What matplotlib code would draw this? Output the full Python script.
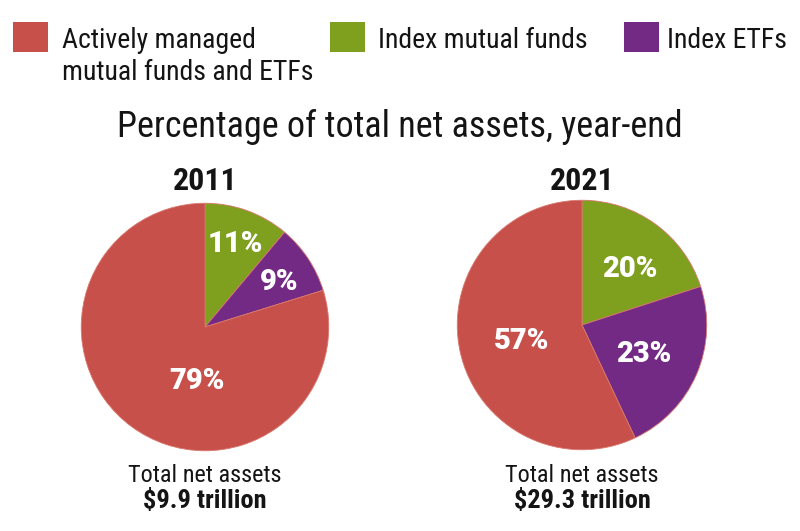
import matplotlib
matplotlib.use("Agg")
import matplotlib.pyplot as plt
from matplotlib.patches import Rectangle
import numpy as np

categories = ["Actively managed\nmutual funds and ETFs", "Index mutual funds", "Index ETFs"]
years = ["2011", "2021"]
# order drawn clockwise from 12 o'clock: index MF, index ETF, active
values_2011 = [11, 9, 79]
values_2021 = [20, 23, 57]
totals = ["$9.9 trillion", "$29.3 trillion"]

RED = "#C7504A"
GREEN = "#7F9F1F"
PURPLE = "#732A84"
colors = [GREEN, PURPLE, RED]
INK = "#141414"

fig = plt.figure(figsize=(8, 5.31), dpi=100)
W, H = 800, 531


def fx(px):
    return px / W


def fy(py):
    return 1 - py / H


cond = ["Roboto Condensed", "DejaVu Sans"]
wide = ["Roboto", "DejaVu Sans"]

# Legend
leg = [(13, RED, categories[0], 49), (330, GREEN, categories[1], 48), (624, PURPLE, categories[2], 43)]
for x, c, lab, off in leg:
    fig.patches.append(Rectangle((fx(x), fy(52)), 35 / W, 30 / H, transform=fig.transFigure,
                                 facecolor=c, edgecolor="none"))
    lines = lab.split("\n")
    for k, line in enumerate(lines):
        fig.text(fx(x + off), fy(40 + 33 * k), line, ha="left", va="center", fontsize=20,
                 family=cond, color=INK)

fig.text(0.5, fy(127), "Percentage of total net assets, year-end", ha="center", va="center",
         fontsize=26, family=cond, color=INK)

# label positions in unit-circle coordinates (r fraction, angle deg)
label_pos = [
    [(0.71, 70), (0.70, 31), (0.44, -98)],
    [(0.59, 49), (0.55, -25), (0.50, -165)],
]

pies = [(205, 327, 125, values_2011), (582, 325, 126, values_2021)]
for i, (cx, cy, r, vals) in enumerate(pies):
    ax = fig.add_axes([fx(cx - r), fy(cy + r), 2 * r / W, 2 * r / H])
    wedges, texts = ax.pie(vals, colors=colors, startangle=90, counterclock=False,
                           wedgeprops=dict(edgecolor="#d9786f", linewidth=0.6))
    for (rf, ang), v in zip(label_pos[i], vals):
        a = np.deg2rad(ang)
        ax.text(rf * np.cos(a), rf * np.sin(a), f"{v}%", ha="center", va="center",
                color="white", fontsize=21, fontweight="black", family=wide)
    ax.set_xlim(-1.01, 1.01)
    ax.set_ylim(-1.01, 1.01)
    ax.axis("off")
    fig.text(fx(cx), fy(181), years[i], ha="center", va="center", fontsize=23,
             fontweight="black", family=cond, color=INK)
    fig.text(fx(cx), fy(475), "Total net assets", ha="center", va="center", fontsize=17.5,
             family=cond, color=INK)
    fig.text(fx(cx), fy(501), totals[i], ha="center", va="center", fontsize=19,
             fontweight="black", family=cond, color=INK)

fig.savefig("out.png", dpi=100)
